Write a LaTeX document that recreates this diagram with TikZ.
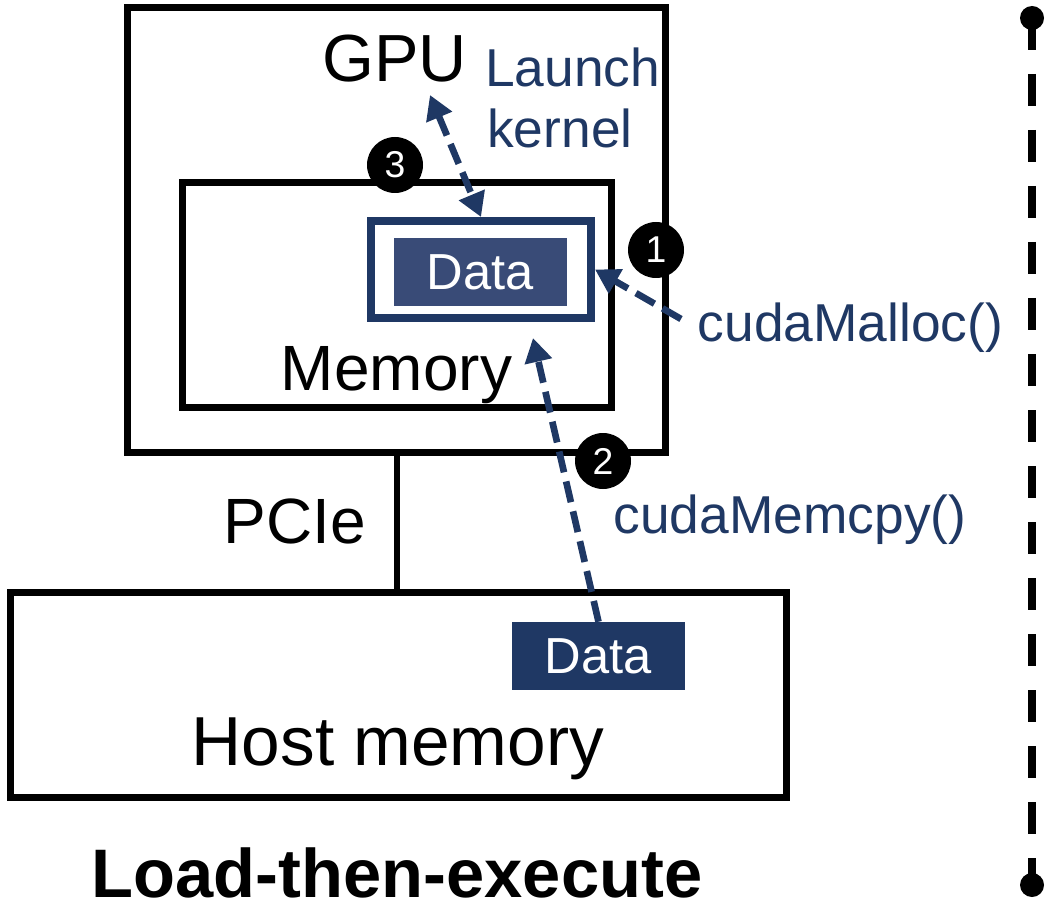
\documentclass[tikz,border=0pt]{standalone}
\usepackage{fontspec}
\setmainfont{Liberation Sans}
\usetikzlibrary{arrows.meta,fit}
\definecolor{navy}{HTML}{1F3864}
\definecolor{navysoft}{HTML}{394B77}
\begin{document}
\begin{tikzpicture}[x=0.75pt,y=-0.75pt,
  box/.style={draw=black,line width=5.25pt,inner sep=0pt},
  frame/.style={draw=navy,line width=6pt,inner sep=0pt},
  datafill/.style={inner sep=0pt,text=white,font=\fontsize{38}{44}\selectfont},
  lbl/.style={inner sep=0pt,anchor=base,font=\fontsize{48}{56}\selectfont},
  bluelbl/.style={inner sep=0pt,anchor=base,text=navy,font=\fontsize{40}{46}\selectfont},
  num/.style={circle,fill=black,minimum size=42pt,inner sep=0pt,text=white,font=\fontsize{28}{32}\selectfont},
  flow/.style={draw=navy,line width=5pt,dash pattern=on 16pt off 7pt,
    -{Triangle[length=18pt,width=20pt]}},
  flowboth/.style={flow,{Triangle[length=18pt,width=20pt]}-{Triangle[length=18pt,width=20pt]}},
  ball/.style={circle,fill=black,minimum size=18pt,inner sep=0pt}]
\useasboundingbox (0,0) rectangle (1048,905);

% boxes
\node[box,fit={(127,8) (665,452)}] (gpu) {};
\node[box,fit={(182,183) (611,407)}] (mem) {};
\node[box,fit={(10,592) (786,797)}] (host) {};
\node[frame,fit={(371,221) (591,318)}] (frame) {};
\node[datafill,fill=navysoft,fit={(394,238) (567,306)}] (gdata) {};
\node[datafill] at (gdata.center) {Data};
\node[datafill,fill=navy,fit={(512,622) (685,690)}] (hdata) {};
\node[datafill] at (hdata.center) {Data};

% PCIe link
\draw[line width=5pt] (gpu.south -| 397,0) -- (host.north -| 397,0);

% labels
\node[lbl,font=\fontsize{50}{58}\selectfont] (gpulbl) at (394.5,82) {GPU};
\node[lbl] (memlbl) at (396.5,390) {Memory};
\node[lbl] (pcie) at (295,543) {PCIe};
\node[lbl,font=\fontsize{52}{60}\selectfont] (hostlbl) at (398,765) {Host memory};
\node[lbl,font=\bfseries\fontsize{51.5}{60}\selectfont] (title) at (397,897) {Load-then-execute};
\node[bluelbl,anchor=base west] (launch) at (485,87) {Launch};
\node[bluelbl,anchor=base west] (kernel) at (487,148) {kernel};
\node[bluelbl] (malloc) at (850.5,341) {cudaMalloc()};
\node[bluelbl] (memcpy) at (790,533) {cudaMemcpy()};

% step markers
\node[num] (n1) at (656,250) {1};
\node[num] (n2) at (603,461) {2};
\node[num] (n3) at (395,165) {3};

% data movement
\coordinate (mallocfrom) at (681,319);
\coordinate (memcpyto) at (533,338);
\coordinate (kernelto) at (430,95);
\draw[flow] (mallocfrom) -- (frame.east);
\draw[flow] (hdata.north) -- (memcpyto);
\draw[flowboth] (kernelto) -- (frame.north);

% timeline
\node[ball] (tstart) at (1032,18) {};
\node[ball] (tend) at (1032,885) {};
\draw[line width=6pt,dash pattern=on 24pt off 18pt] (tstart.center) -- (tend.center);
\end{tikzpicture}
\end{document}
